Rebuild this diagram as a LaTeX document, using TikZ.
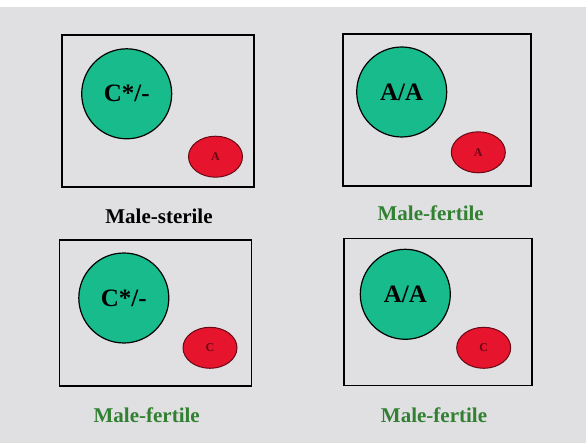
\documentclass[tikz,border=0pt]{standalone}
\usepackage{fontspec}
\setmainfont{Liberation Serif}
\definecolor{bg}{RGB}{224, 224, 226}
\definecolor{gc}{RGB}{24, 188, 140}
\definecolor{rc}{RGB}{230, 20, 44}
\definecolor{tg}{RGB}{50, 128, 50}
\usetikzlibrary{positioning}
\usetikzlibrary{shapes.geometric}

\begin{document}
\begin{tikzpicture}[every node/.style={inner sep=0pt},
 box/.style={rectangle, line width=1.6pt, draw=black},
 geno/.style={circle, minimum size=90pt, fill=gc, line width=1.2pt, draw=black, font=\bfseries\fontsize{25}{25}\selectfont},
 pollen/.style={ellipse, minimum width=54pt, minimum height=41pt, fill=rc, line width=1pt, draw=rc!45!black, text=rc!45!black, font=\bfseries\fontsize{12}{12}\selectfont},
 lab/.style={font=\bfseries\fontsize{21}{21}\selectfont}]
\useasboundingbox (0pt, 0pt) rectangle (586pt, -443pt);
\fill [white] (0pt, 0pt) rectangle (586pt, -443pt);
\fill [bg] (0pt, -7pt) rectangle (586pt, -443pt);
\node (box1) [box, minimum width=192pt, minimum height=152pt] at (158.0pt, -111.0pt) {};
\node (box2) [box, minimum width=188pt, minimum height=152pt] at (437.0pt, -110.0pt) {};
\node (box3) [box, minimum width=192pt, minimum height=146pt] at (155.5pt, -313.0pt) {};
\node (box4) [box, minimum width=188pt, minimum height=147pt] at (437.8pt, -312.0pt) {};
\node (geno1) [geno] at (126.7pt, -93.8pt) {C*/-};
\node (geno2) [geno] at (401.7pt, -92.0pt) {A/A};
\node (geno3) [geno] at (123.8pt, -298.0pt) {C*/-};
\node (geno4) [geno] at (405.3pt, -294.3pt) {A/A};
\node (pollen1) [pollen] at (215.5pt, -156.7pt) {A};
\node (pollen2) [pollen] at (478.3pt, -152.3pt) {A};
\node (pollen3) [pollen] at (210.0pt, -347.8pt) {C};
\node (pollen4) [pollen] at (483.7pt, -347.8pt) {C};
\node (lab1) [lab, text=black] at (159.0pt, -216.7pt) {Male-sterile};
\node (lab2) [lab, text=tg] at (430.7pt, -213.0pt) {Male-fertile};
\node (lab3) [lab, text=tg] at (146.7pt, -415.0pt) {Male-fertile};
\node (lab4) [lab, text=tg] at (434.0pt, -415.0pt) {Male-fertile};
\end{tikzpicture}
\end{document}
